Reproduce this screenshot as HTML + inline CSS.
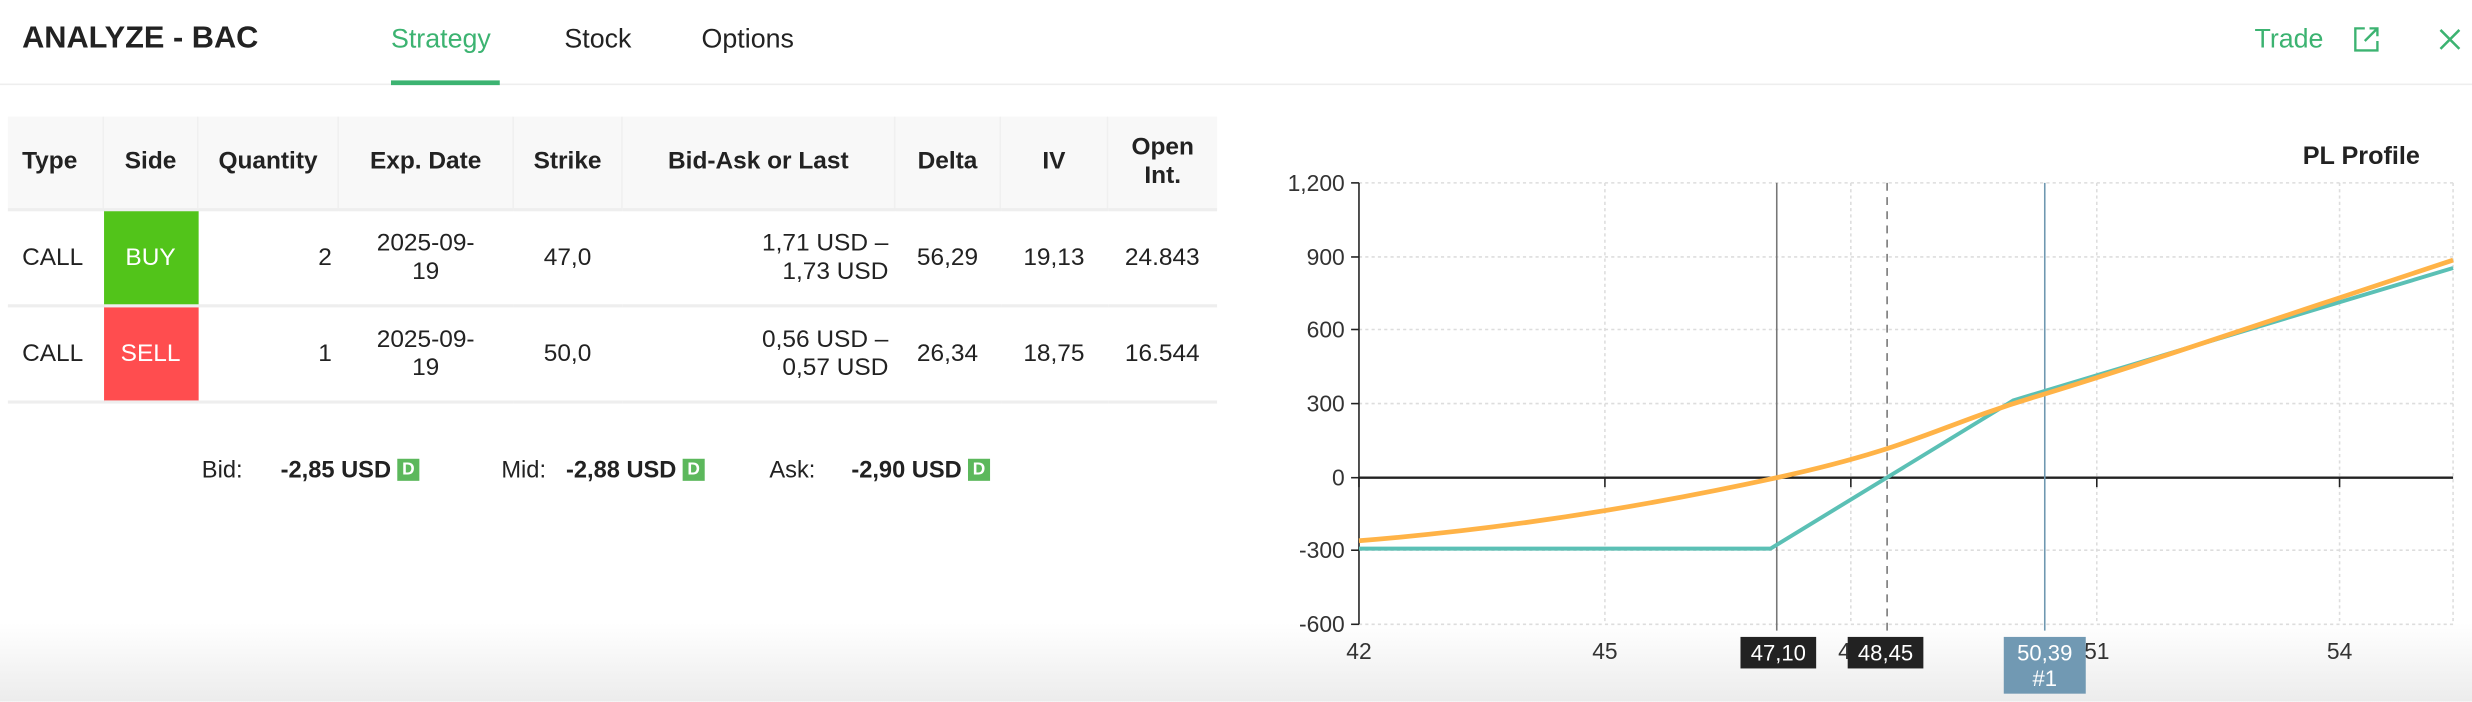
<!DOCTYPE html>
<html><head><meta charset="utf-8"><style>
html,body{margin:0;padding:0;width:2472px;height:702px;overflow:hidden;background:#fff}
#w{position:absolute;left:0;top:0;width:1568px;height:445px;transform:scale(1.57653);transform-origin:0 0;font-family:"Liberation Sans",sans-serif;color:#222}
.a{position:absolute;white-space:nowrap}
table{position:absolute;left:5px;top:74px;border-collapse:collapse;font-size:15.5px;width:767px}
td,th{padding:0 4px;height:59px;border-bottom:2px solid #eee}
td:first-child,th:first-child{padding-left:9px}
th{background:#f8f8f8;font-weight:bold;height:58px;border-right:1px solid #f0f0f0}
th:last-child{border-right:none}
.g{background:#52c41a;color:#fff;text-align:center}
.r{background:#ff4d4f;color:#fff;text-align:center}
.d{display:inline-block;background:#5cb85c;color:#fff;font-size:11px;font-weight:bold;padding:1px 3px;margin-left:4px;vertical-align:2px}
</style></head><body><div id="w">
<div class="a" style="left:14px;top:13px;font-size:19.5px;font-weight:bold">ANALYZE - BAC</div>
<div class="a" style="left:248px;top:15px;font-size:17px;color:#3cb371">Strategy</div>
<div class="a" style="left:358px;top:15px;font-size:17px">Stock</div>
<div class="a" style="left:445px;top:15px;font-size:17px">Options</div>
<div class="a" style="left:0;top:53px;width:1568px;height:1px;background:#eee"></div>
<div class="a" style="left:248px;top:51px;width:69px;height:3px;background:#3cb371"></div>
<div class="a" style="left:1430px;top:15px;font-size:17px;color:#3cb371">Trade</div>
<svg class="a" style="left:1492px;top:16px" width="18" height="18" viewBox="0 0 18 18" fill="none" stroke="#3cb371" stroke-width="1.5"><path d="M8 2H2v14h14v-6M11 2h5v5M16 2L8 10"/></svg>
<svg class="a" style="left:1547px;top:18px" width="14" height="14" stroke="#3cb371" stroke-width="1.6"><path d="M1 1L13 13M13 1L1 13"/></svg>
<table>
<tr><th style="width:47px;text-align:left">Type</th><th style="width:51px">Side</th><th style="width:80px">Quantity</th><th style="width:102px">Exp. Date</th><th style="width:60px">Strike</th><th style="width:164px">Bid-Ask or Last</th><th style="width:58px">Delta</th><th style="width:59px">IV</th><th>Open<br>Int.</th></tr>
<tr><td>CALL</td><td class="g">BUY</td><td style="text-align:right">2</td><td style="text-align:center">2025-09-<br>19</td><td style="text-align:center">47,0</td><td style="text-align:right">1,71 USD –<br>1,73 USD</td><td style="text-align:center">56,29</td><td style="text-align:center">19,13</td><td style="text-align:center">24.843</td></tr>
<tr><td>CALL</td><td class="r">SELL</td><td style="text-align:right">1</td><td style="text-align:center">2025-09-<br>19</td><td style="text-align:center">50,0</td><td style="text-align:right">0,56 USD –<br>0,57 USD</td><td style="text-align:center">26,34</td><td style="text-align:center">18,75</td><td style="text-align:center">16.544</td></tr>
</table>
<div class="a" style="left:128px;top:290px;font-size:15px">Bid:</div>
<div class="a" style="left:178px;top:290px;font-size:15px;font-weight:bold">-2,85 USD<span class="d">D</span></div>
<div class="a" style="left:318px;top:290px;font-size:15px">Mid:</div>
<div class="a" style="left:359px;top:290px;font-size:15px;font-weight:bold">-2,88 USD<span class="d">D</span></div>
<div class="a" style="left:488px;top:290px;font-size:15px">Ask:</div>
<div class="a" style="left:540px;top:290px;font-size:15px;font-weight:bold">-2,90 USD<span class="d">D</span></div>
<div class="a" style="left:0;top:395px;width:1568px;height:50px;background:linear-gradient(#fff,#ececec)"></div>
<svg class="a" style="left:0;top:0" width="1568" height="445" font-family="Liberation Sans,sans-serif">
<text x="1535" y="104" font-size="16" font-weight="bold" text-anchor="end" fill="#222">PL Profile</text>
<g stroke="#ddd" stroke-dasharray="2,2" stroke-width="1">
<line x1="862" y1="116" x2="1556" y2="116"/><line x1="862" y1="163" x2="1556" y2="163"/><line x1="862" y1="209" x2="1556" y2="209"/><line x1="862" y1="256" x2="1556" y2="256"/><line x1="862" y1="349" x2="1556" y2="349"/><line x1="862" y1="396" x2="1556" y2="396"/>
<line x1="1018" y1="116" x2="1018" y2="396"/><line x1="1174" y1="116" x2="1174" y2="396"/><line x1="1330" y1="116" x2="1330" y2="396"/><line x1="1484" y1="116" x2="1484" y2="396"/><line x1="1556" y1="116" x2="1556" y2="396"/>
</g>
<line x1="862" y1="116" x2="862" y2="396" stroke="#222"/>
<g stroke="#222"><line x1="857" y1="116" x2="862" y2="116"/><line x1="857" y1="163" x2="862" y2="163"/><line x1="857" y1="209" x2="862" y2="209"/><line x1="857" y1="256" x2="862" y2="256"/><line x1="857" y1="303" x2="862" y2="303"/><line x1="857" y1="349" x2="862" y2="349"/><line x1="857" y1="396" x2="862" y2="396"/>
<line x1="862" y1="303" x2="862" y2="309"/><line x1="1018" y1="303" x2="1018" y2="309"/><line x1="1174" y1="303" x2="1174" y2="309"/><line x1="1330" y1="303" x2="1330" y2="309"/><line x1="1484" y1="303" x2="1484" y2="309"/></g>
<line x1="862" y1="303" x2="1556" y2="303" stroke="#222" stroke-width="1.5"/>
<g font-size="14.5" fill="#333" text-anchor="end"><text x="853" y="121">1,200</text><text x="853" y="168">900</text><text x="853" y="214">600</text><text x="853" y="261">300</text><text x="853" y="308">0</text><text x="853" y="354">-300</text><text x="853" y="401">-600</text></g>
<g font-size="14.5" fill="#333" text-anchor="middle"><text x="862" y="418">42</text><text x="1018" y="418">45</text><text x="1174" y="418">48</text><text x="1330" y="418">51</text><text x="1484" y="418">54</text></g>
<line x1="1127" y1="116" x2="1127" y2="400" stroke="#777"/>
<line x1="1197" y1="116" x2="1197" y2="400" stroke="#777" stroke-dasharray="5,4"/>
<line x1="1297" y1="116" x2="1297" y2="400" stroke="#6f98b0"/>
<polyline fill="none" stroke="#5bc0b5" stroke-width="2.5" points="862,348 1123,348 1277,254 1556,170"/>
<path fill="none" stroke="#ffb347" stroke-width="3" d="M862,343 C950,336 1040,322 1127,303 S1230,270 1290,252 S1450,200 1556,165"/>
<rect x="1104" y="404" width="48" height="20" fill="#222"/><text x="1128" y="419" font-size="14" fill="#fff" text-anchor="middle">47,10</text>
<rect x="1172" y="404" width="48" height="20" fill="#222"/><text x="1196" y="419" font-size="14" fill="#fff" text-anchor="middle">48,45</text>
<rect x="1271" y="404" width="52" height="36" fill="#7199b3"/><text x="1297" y="419" font-size="14" fill="#fff" text-anchor="middle">50,39</text><text x="1297" y="435" font-size="14" fill="#fff" text-anchor="middle">#1</text>
</svg>
</div></body></html>
